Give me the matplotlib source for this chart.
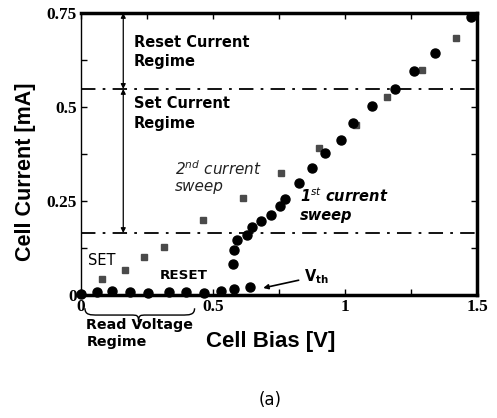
import matplotlib
matplotlib.use("Agg")
import matplotlib.pyplot as plt
from matplotlib.path import Path
from matplotlib.patches import PathPatch
from matplotlib.ticker import MultipleLocator

# 1st current sweep (circles)
sweep1_v = [0.0, 0.061, 0.118, 0.187, 0.252, 0.332, 0.397, 0.466, 0.53, 0.58, 0.641,
            0.576, 0.58, 0.592, 0.63, 0.649, 0.683, 0.721, 0.752, 0.771, 0.824,
            0.874, 0.924, 0.985, 1.03, 1.103, 1.19, 1.26, 1.34, 1.477]
sweep1_i = [0.004, 0.008, 0.01, 0.008, 0.006, 0.008, 0.008, 0.006, 0.01, 0.016, 0.021,
            0.082, 0.12, 0.146, 0.16, 0.181, 0.197, 0.213, 0.237, 0.255, 0.297,
            0.338, 0.377, 0.412, 0.457, 0.503, 0.548, 0.596, 0.644, 0.739]

# 2nd current sweep (squares)
sweep2_v = [0.0, 0.08, 0.168, 0.24, 0.313, 0.462, 0.614, 0.756, 0.90, 1.04, 1.16, 1.29, 1.42]
sweep2_i = [0.004, 0.043, 0.066, 0.101, 0.128, 0.199, 0.258, 0.324, 0.39, 0.452, 0.527, 0.598, 0.683]

set_level = 0.165
reset_level = 0.548

xticks = [0, 0.5, 1, 1.5]
xticklabels = ["0", "0.5", "1", "1.5"]
yticks = [0, 0.25, 0.5, 0.75]
yticklabels = ["0", "0.25", "0.5", "0.75"]

fig = plt.figure(figsize=(4.97, 4.18), dpi=100)
ax = fig.add_axes([0.163, 0.294, 0.797, 0.675])
ax.set_xlim(0, 1.5)
ax.set_ylim(0, 0.75)

ax.plot(sweep2_v, sweep2_i, linestyle="none", marker="s", markersize=4.5,
        color="#4a4a4a", clip_on=False, zorder=3)
ax.plot(sweep1_v, sweep1_i, linestyle="none", marker="o", markersize=6.5,
        color="black", clip_on=False, zorder=4)

ax.axhline(reset_level, color="black", linestyle=(0, (8, 4, 1.5, 4)), lw=1.3)
ax.axhline(set_level, color="black", linestyle=(0, (8, 4, 1.5, 4)), lw=1.3)

# regime arrows
xa = 0.16
ax.annotate("", xy=(xa, 0.75), xytext=(xa, reset_level),
            arrowprops=dict(arrowstyle="<|-|>", color="black", lw=0.9,
                            mutation_scale=7, shrinkA=0, shrinkB=0))
ax.annotate("", xy=(xa, reset_level), xytext=(xa, set_level),
            arrowprops=dict(arrowstyle="<|-|>", color="black", lw=0.9,
                            mutation_scale=7, shrinkA=0, shrinkB=0))

tfont = "DejaVu Sans"
ax.text(0.2, 0.692, "Reset Current\nRegime", fontsize=10.5, fontweight="bold",
        family=tfont, va="top", ha="left", linespacing=1.35)
ax.text(0.2, 0.528, "Set Current\nRegime", fontsize=10.5, fontweight="bold",
        family=tfont, va="top", ha="left", linespacing=1.35)
ax.text(0.357, 0.362, "2$^{nd}$ current\nsweep", fontsize=11, fontstyle="italic",
        family=tfont, va="top", ha="left", linespacing=1.12, color="#222222")
ax.text(0.83, 0.29, "1$^{st}$ current\nsweep", fontsize=10.5, fontstyle="italic",
        fontweight="bold", family=tfont, va="top", ha="left", linespacing=1.25)
ax.text(0.025, 0.093, "SET", fontsize=10.5, family=tfont, va="center", ha="left")
ax.text(0.30, 0.053, "RESET", fontsize=9.7, fontweight="bold", family=tfont,
        va="center", ha="left")
ax.annotate("V$_{\\mathbf{th}}$", xy=(0.69, 0.019), xytext=(0.845, 0.05),
            fontsize=10.5, fontweight="bold", family=tfont, va="center", ha="left",
            arrowprops=dict(arrowstyle="-|>", color="black", lw=1.2,
                            mutation_scale=7, shrinkA=2, shrinkB=0))

# brace under x axis
x0, x1, xm = 0.015, 0.43, 0.218
yt, ym, yb = -0.035, -0.053, -0.072
verts = [(x0, yt), (x0, ym), (x0 + 0.02, ym), (x0 + 0.05, ym),
         (xm - 0.03, ym),
         (xm - 0.005, ym), (xm, ym), (xm, yb),
         (xm, ym), (xm + 0.005, ym), (xm + 0.03, ym),
         (x1 - 0.05, ym),
         (x1 - 0.02, ym), (x1, ym), (x1, yt)]
codes = [Path.MOVETO, Path.CURVE4, Path.CURVE4, Path.CURVE4,
         Path.LINETO,
         Path.CURVE4, Path.CURVE4, Path.CURVE4,
         Path.CURVE4, Path.CURVE4, Path.CURVE4,
         Path.LINETO,
         Path.CURVE4, Path.CURVE4, Path.CURVE4]
ax.add_patch(PathPatch(Path(verts, codes), fill=False, lw=1.0, color="black",
                       clip_on=False))
ax.text(0.02, -0.062, "Read Voltage\nRegime", fontsize=10.3, fontweight="bold",
        family=tfont, va="top", ha="left", linespacing=1.25,
        transform=ax.transData)

# axes styling
for side in ["top", "right", "bottom"]:
    ax.spines[side].set_linewidth(2.5)
ax.spines["left"].set_linewidth(1.0)
ax.set_xticks(xticks)
ax.set_xticklabels(xticklabels)
ax.set_yticks(yticks)
ax.set_yticklabels(yticklabels)
ax.xaxis.set_minor_locator(MultipleLocator(0.25))
ax.yaxis.set_minor_locator(MultipleLocator(0.125))
ax.tick_params(which="both", direction="in", top=True, right=True, length=4, width=1)
ax.tick_params(axis="both", which="major", pad=3)
for lab in ax.get_xticklabels() + ax.get_yticklabels():
    lab.set_family("Liberation Serif")
    lab.set_fontweight("bold")
    lab.set_fontsize(12.5)

ax.set_xlabel("Cell Bias [V]", fontsize=16, fontweight="bold",
              family="Liberation Sans")
ax.xaxis.set_label_coords(0.48, -0.163)
ax.xaxis.label.set_va("center")
ax.set_ylabel("Cell Current [mA]", fontsize=15.5, fontweight="bold",
              family="Liberation Sans")
ax.yaxis.set_label_coords(-0.139, 0.436)
ax.yaxis.label.set_va("center")
fig.text(0.543, 0.043, "(a)", fontsize=12, family="DejaVu Sans",
         ha="center", va="center")

fig.savefig("out.png", dpi=100)
